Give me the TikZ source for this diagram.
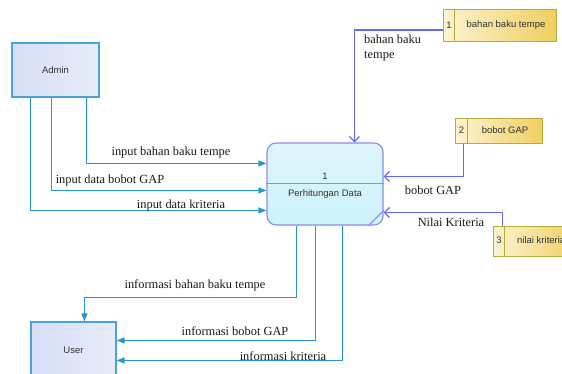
\documentclass[tikz,border=0pt]{standalone}
\usepackage{fontspec}
\setmainfont{Liberation Serif}
\newfontfamily\boxfont{Liberation Sans}
\usetikzlibrary{arrows.meta,calc}

\definecolor{flowblue}{RGB}{38,150,212}
\definecolor{flowpurple}{RGB}{104,104,245}
\definecolor{extborder}{RGB}{75,163,221}
\definecolor{extfillA}{RGB}{214,222,246}
\definecolor{extfillB}{RGB}{232,236,250}
\definecolor{procborder}{RGB}{140,140,238}
\definecolor{procfillA}{RGB}{222,245,251}
\definecolor{procfillB}{RGB}{204,243,252}
\definecolor{storeborder}{RGB}{180,172,60}
\definecolor{storefillA}{RGB}{252,244,210}
\definecolor{storefillB}{RGB}{240,206,96}

\tikzset{
  extent/.style={draw=extborder, line width=1.1pt, left color=extfillA, right color=extfillB,
    inner sep=0pt, font=\boxfont\fontsize{9.5}{11}\selectfont, text=black!80},
  procbox/.style={draw=procborder, line width=1.1pt, rounded corners=9pt,
    top color=procfillA, bottom color=procfillB, inner sep=0pt},
  storebox/.style={draw=storeborder, line width=1pt, left color=storefillA, right color=storefillB,
    inner sep=0pt},
  boxtext/.style={font=\boxfont\fontsize{9.5}{11}\selectfont, text=black!80, inner sep=0pt},
  inflow/.style={draw=flowblue, line width=1.1pt, -{Triangle[length=8pt,width=6pt]}},
  storeflow/.style={draw=flowpurple, line width=1.3pt, -{Straight Barb[length=5pt,width=10pt]}},
  flowlabel/.style={font=\fontsize{12.4}{14.5}\selectfont, text=black!90, inner sep=0pt},
}

\begin{document}
\begin{tikzpicture}[x=1pt,y=-1pt]
\useasboundingbox (0,0) rectangle (562,374);

% external entities
\node[extent, minimum width=87pt, minimum height=54pt] (admin) at (55.5,70) {Admin};
\node[extent, minimum width=85pt, minimum height=56pt] (user) at (73.5,350) {User};

% process
\node[procbox, minimum width=116pt, minimum height=82pt] (proc) at (325,184) {};
\draw[draw=procborder, line width=1pt] (proc.west) -- (proc.east);
\draw[draw=procborder, line width=1pt] ([xshift=-15pt]proc.south east) -- ([yshift=15pt]proc.south east);
\node[boxtext] (procnum) at (325,176) {1};
\node[boxtext] (procname) at (325,194) {Perhitungan Data};

% data stores
\node[storebox, minimum width=113pt, minimum height=32pt] (s1) at (499.5,26) {};
\draw[storeborder, line width=1pt] ([xshift=12pt]s1.north west) -- ([xshift=12pt]s1.south west);
\node[boxtext] (s1id) at (449,25) {1};
\node[boxtext] (s1name) at (506,25) {bahan baku tempe};

\node[storebox, minimum width=87pt, minimum height=25pt] (s2) at (498.5,131.5) {};
\draw[storeborder, line width=1pt] ([xshift=13pt]s2.north west) -- ([xshift=13pt]s2.south west);
\node[boxtext] (s2id) at (461.5,130.5) {2};
\node[boxtext] (s2name) at (505,130.5) {bobot GAP};

\node[storebox, minimum width=86pt, minimum height=30pt] (s3) at (536,241) {};
\draw[storeborder, line width=1pt] ([xshift=12pt]s3.north west) -- ([xshift=12pt]s3.south west);
\node[boxtext] (s3id) at (499,240) {3};
\node[boxtext, anchor=west] (s3name) at (517,240) {nilai kriteria};

% Admin -> process
\draw[inflow] ([xshift=75pt]admin.south west) |- ([yshift=-21pt]proc.north west);
\draw[inflow] ([xshift=40pt]admin.south west) |- ([yshift=-48pt]proc.north west);
\draw[inflow] ([xshift=19pt]admin.south west) |- ([yshift=-68pt]proc.north west);
\node[flowlabel] at (171,153) {input bahan baku tempe};
\node[flowlabel] at (110,181) {input data bobot GAP};
\node[flowlabel] at (181,206) {input data kriteria};

% data stores -> process
\draw[storeflow] ([yshift=-4pt]s1.west) -| ([xshift=88pt]proc.north west);
\draw[storeflow] ([xshift=9pt]s2.south west) |- ([yshift=-34pt]proc.north east);
\draw[storeflow] ([xshift=10pt]s3.north west) |- ([yshift=-70pt]proc.north east);
\node[flowlabel, align=left, anchor=north west] at (364,35) {bahan baku\\tempe};
\node[flowlabel] at (433,190) {bobot GAP};
\node[flowlabel] at (451,222) {Nilai Kriteria};

% process -> User
\draw[inflow] ([xshift=30pt]proc.south west) |- ([xshift=54pt,yshift=24pt]user.north west) -- ([xshift=54pt]user.north west);
\draw[inflow] ([xshift=49pt]proc.south west) |- ([yshift=-19pt]user.north east);
\draw[inflow] ([xshift=76pt]proc.south west) |- ([yshift=-39pt]user.north east);
\node[flowlabel] at (195,285) {informasi bahan baku tempe};
\node[flowlabel] at (235,331) {informasi bobot GAP};
\node[flowlabel] at (283,356) {informasi kriteria};
\end{tikzpicture}
\end{document}
